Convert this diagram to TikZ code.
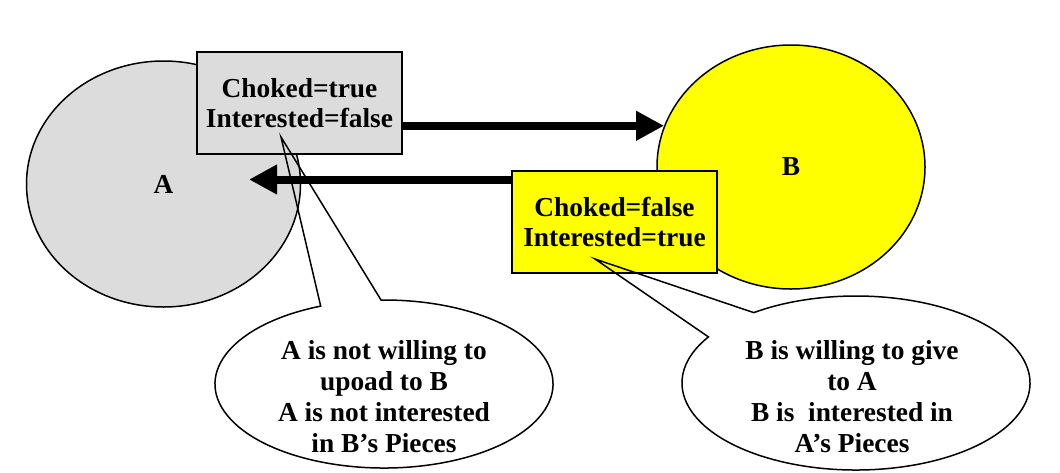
\documentclass[tikz,border=0pt]{standalone}
\usepackage{fontspec}
\setmainfont{Liberation Serif}
\usetikzlibrary{shapes.geometric,arrows.meta,calc}

\newlength{\du}
\setlength{\du}{0.5pt}
\definecolor{peergray}{rgb}{0.862745, 0.862745, 0.862745}
\definecolor{peeryellow}{rgb}{1.000000, 1.000000, 0.000000}
\newcommand{\peerfont}{\bfseries\fontsize{13.7}{15}\selectfont}
\newcommand{\notefont}{\bfseries\fontsize{13.7}{15.5}\selectfont}

\tikzset{
  peer/.style={ellipse, draw, line width=0.75pt, inner sep=0pt, font=\peerfont},
  statebox/.style={rectangle, draw, line width=0.75pt, inner sep=0pt, align=center,
    minimum width=205\du, minimum height=102\du, font=\peerfont},
  notetext/.style={align=center, inner sep=0pt, font=\notefont},
  flow/.style={line width=4pt, -{Triangle[length=14pt,width=14pt]}},
  pointer/.style={line width=0.75pt, line join=miter}
}

\begin{document}
\begin{tikzpicture}
\pgftransformxscale{1.000000}
\pgftransformyscale{-1.000000}
\useasboundingbox (0\du,0\du) rectangle (1060\du,472\du);
% peer A
\node[peer, fill=peergray, minimum width=274\du, minimum height=246\du] (A) at (163.5\du,184\du){A};
\node[statebox, fill=peergray] (stateA) at (299.5\du,103\du){Choked=true\\Interested=false};
% peer B
\node[peer, fill=peeryellow, minimum width=268\du, minimum height=244\du] (B) at (791\du,167\du){B};
\node[statebox, fill=peeryellow] (stateB) at (614.5\du,222\du){Choked=false\\Interested=true};
% messages
\coordinate (Ain) at (249\du,179.5\du);
\draw[flow] (stateA.east |- B.162) -- (B.162);
\draw[flow] (stateB.west |- Ain) -- (Ain);
% callout for A
\coordinate (tipA) at (281\du,137\du);
\coordinate (bubbleA) at (384\du,384\du);
\draw[pointer] ($(bubbleA)+(269:{169\du} and {84\du})$) -- (tipA) -- ($(bubbleA)+(248:{169\du} and {84\du})$)
  arc[start angle=248, end angle=-91, x radius=169\du, y radius=84\du] -- cycle;
\node[notetext] (noteA) at (384\du,397\du){A is not willing to\\upoad to B\\A is not interested\\in B’s Pieces};
% callout for B
\coordinate (tipB) at (595\du,259\du);
\coordinate (bubbleB) at (856\du,383\du);
\draw[pointer] ($(bubbleB)+(234:{174\du} and {87\du})$) -- (tipB) -- ($(bubbleB)+(212:{174\du} and {87\du})$)
  arc[start angle=212, end angle=-126, x radius=174\du, y radius=87\du] -- cycle;
\node[notetext] (noteB) at (852\du,397\du){B is willing to give\\to A\\B is\ \ interested in\\A’s Pieces};
\end{tikzpicture}
\end{document}
